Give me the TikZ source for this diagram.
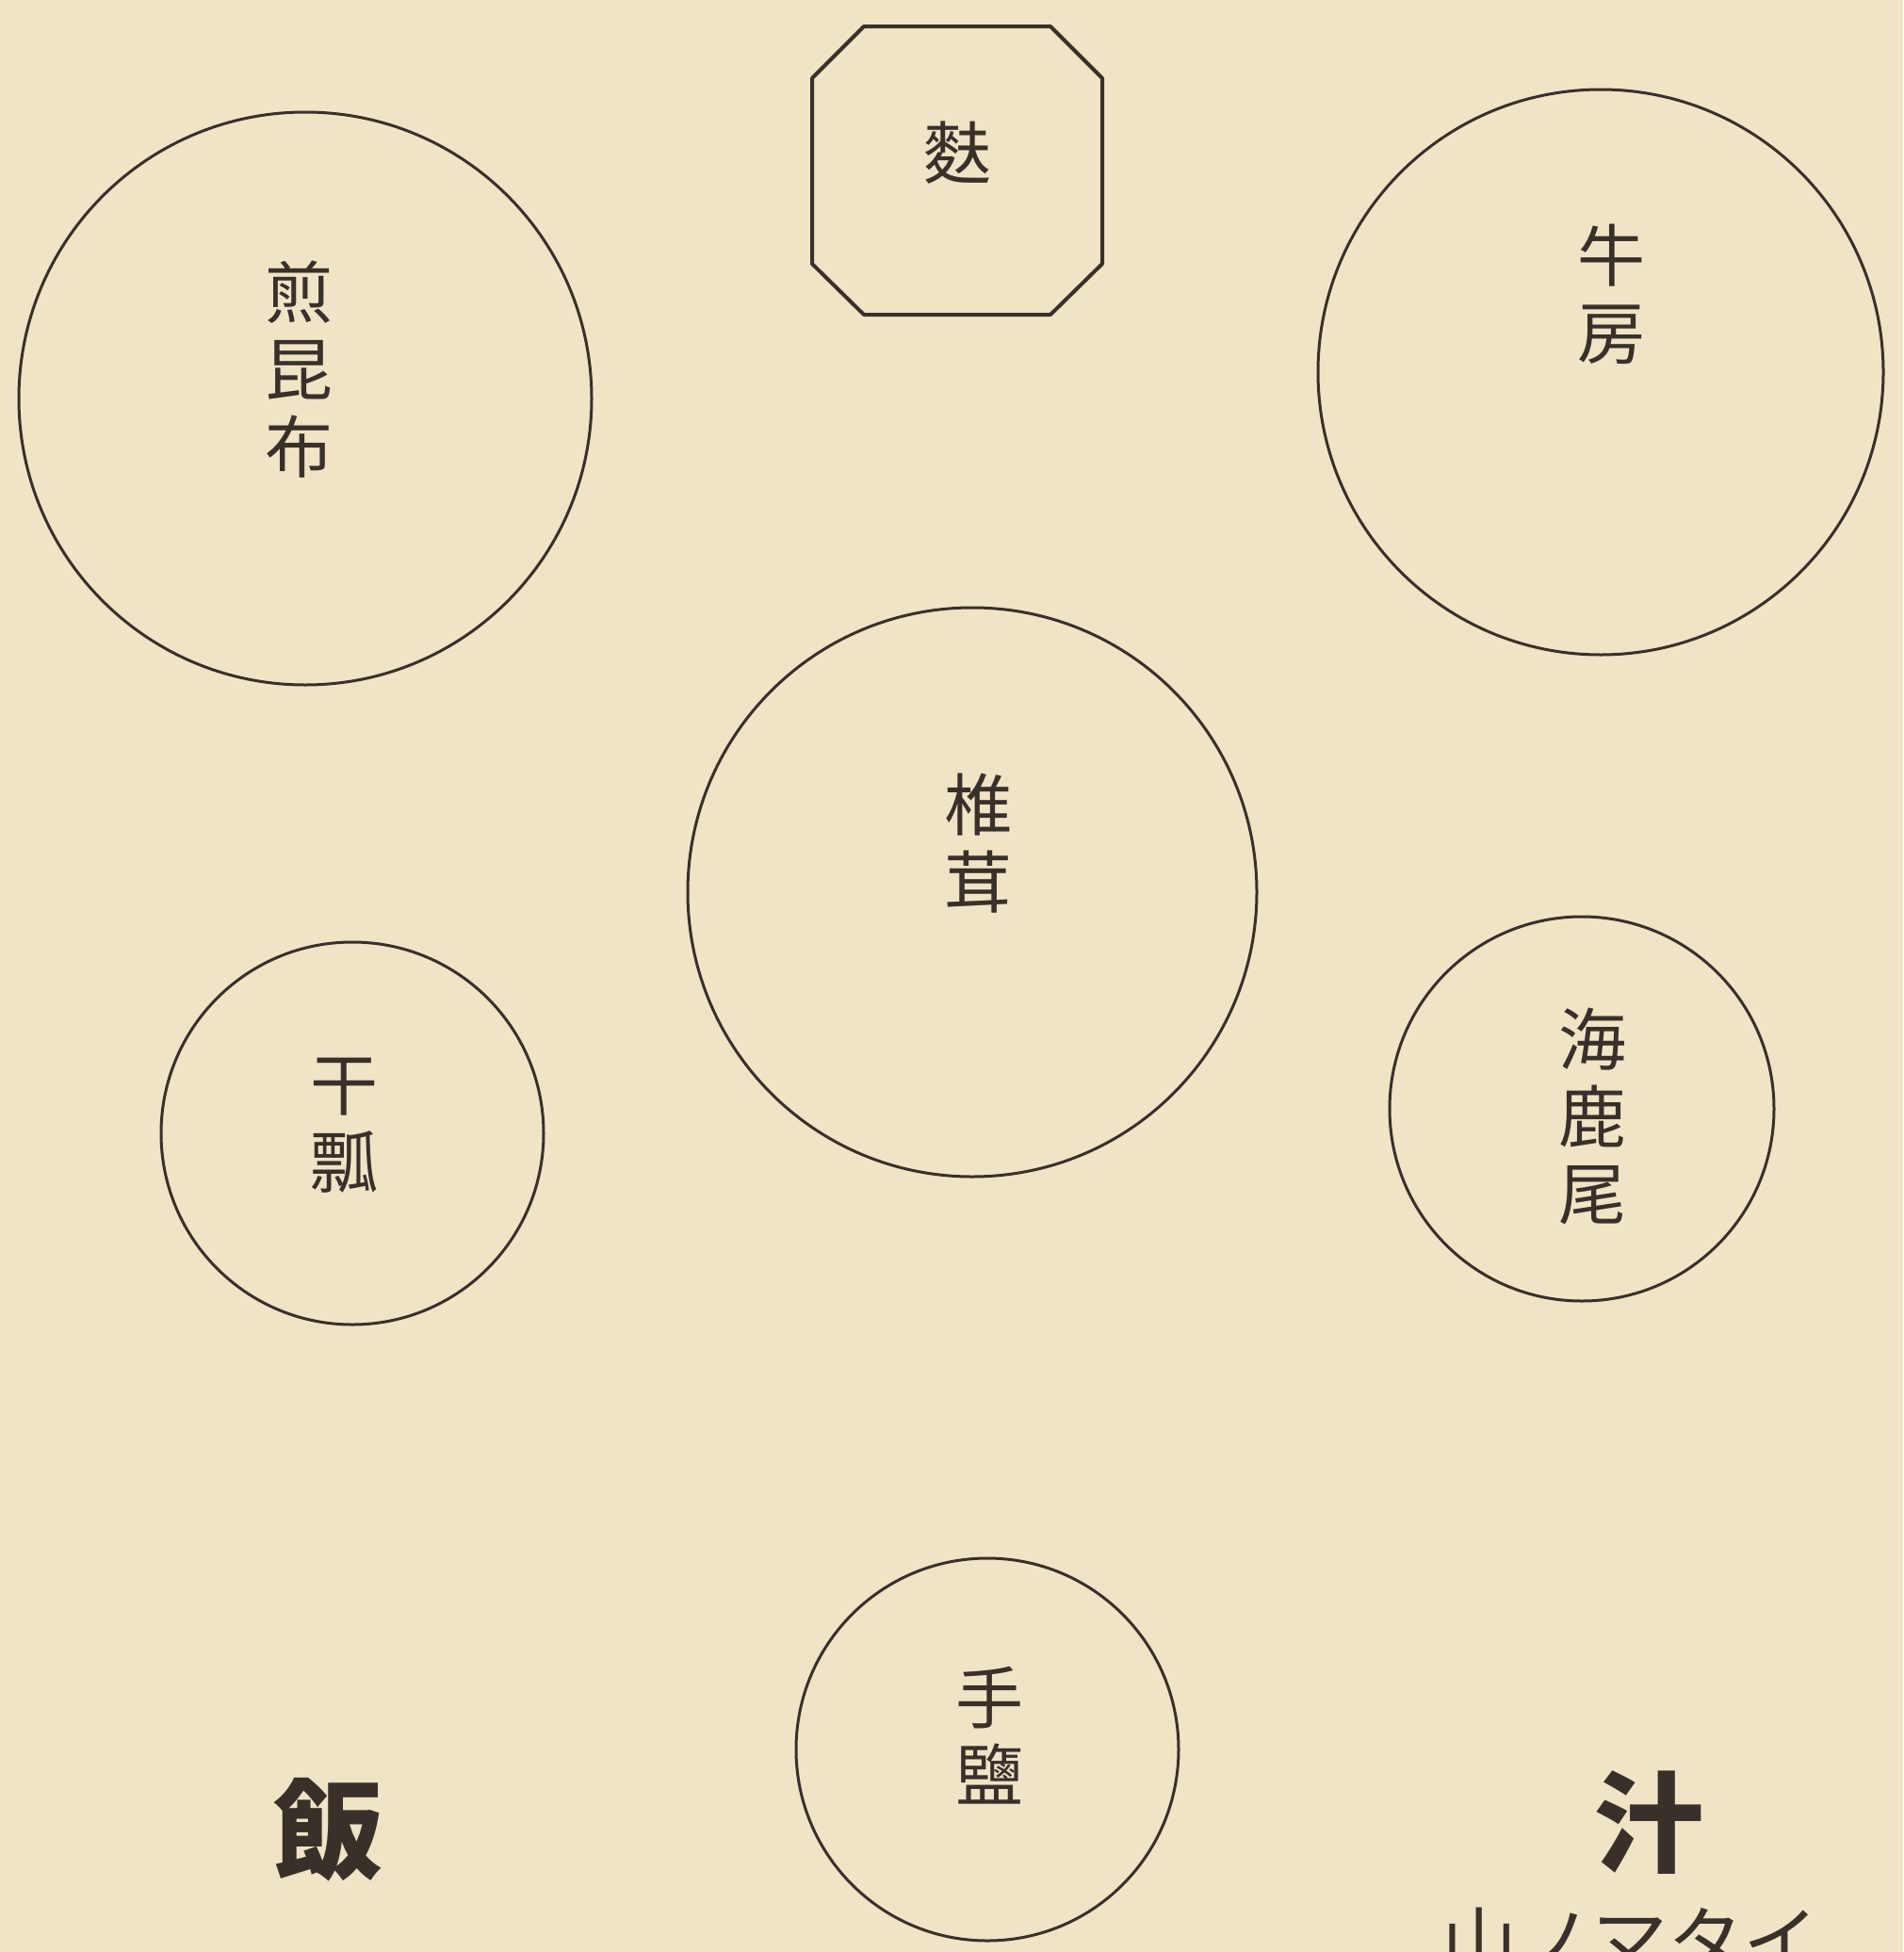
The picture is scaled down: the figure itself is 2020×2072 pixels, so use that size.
\documentclass[tikz,border=0pt]{standalone}
\usepackage{fontspec}
\newfontfamily\cjk{Noto Sans CJK JP}
\definecolor{paper}{HTML}{EFE4C6}
\definecolor{ink}{HTML}{3A302A}
\tikzset{
  plate/.style={circle, draw=ink, line width=1.5pt, inner sep=0pt},
  lbl/.style={text=ink, align=center, inner sep=0pt, font=\cjk\fontsize{36}{41}\selectfont},
  big/.style={text=ink, inner sep=0pt, font=\cjk\bfseries\fontsize{58}{60}\selectfont},
  kana/.style={text=ink, inner sep=0pt, font=\cjk\fontsize{40}{44}\selectfont},
}
\begin{document}
\begin{tikzpicture}[x=0.5pt,y=-0.5pt]
\useasboundingbox (0,0) rectangle (2020,2072);
\fill[paper] (0,0) rectangle (2020,2072);
\clip (0,0) rectangle (2020,2072);
% octagonal box
\draw[ink, line width=2pt, line join=round]
  (917,28) -- (1115,28) -- (1170,83) -- (1170,280) -- (1115,334)
  -- (917,334) -- (862,280) -- (862,83) -- cycle;
\node[lbl] (fu) at (1016,162) {麩};
% circles
\node[plate, minimum size=304pt] (c1) at (324,423) {};
\node[plate, minimum size=300pt] (c2) at (1699,395) {};
\node[plate, minimum size=302pt] (c3) at (1032,947) {};
\node[plate, minimum size=203pt] (c4) at (374,1203) {};
\node[plate, minimum size=204pt] (c5) at (1679,1177) {};
\node[plate, minimum size=203pt] (c6) at (1048,1857) {};
% labels
\node[lbl] (t1) at (317,392) {煎\\昆\\布};
\node[lbl] (t2) at (1710,312) {牛\\房};
\node[lbl] (t3) at (1038,895) {椎\\茸};
\node[lbl] (t4) at (365,1195) {干\\瓢};
\node[lbl] (t5) at (1690,1185) {海\\鹿\\尾};
\node[lbl] (t6) at (1050,1842) {手\\鹽};
\node[big] (meshi) at (348,1942) {飯};
\node[big] (shiru) at (1750,1935) {汁};
\node[kana] (sub) at (1730,2060) {山ノマタイ};
\end{tikzpicture}
\end{document}
